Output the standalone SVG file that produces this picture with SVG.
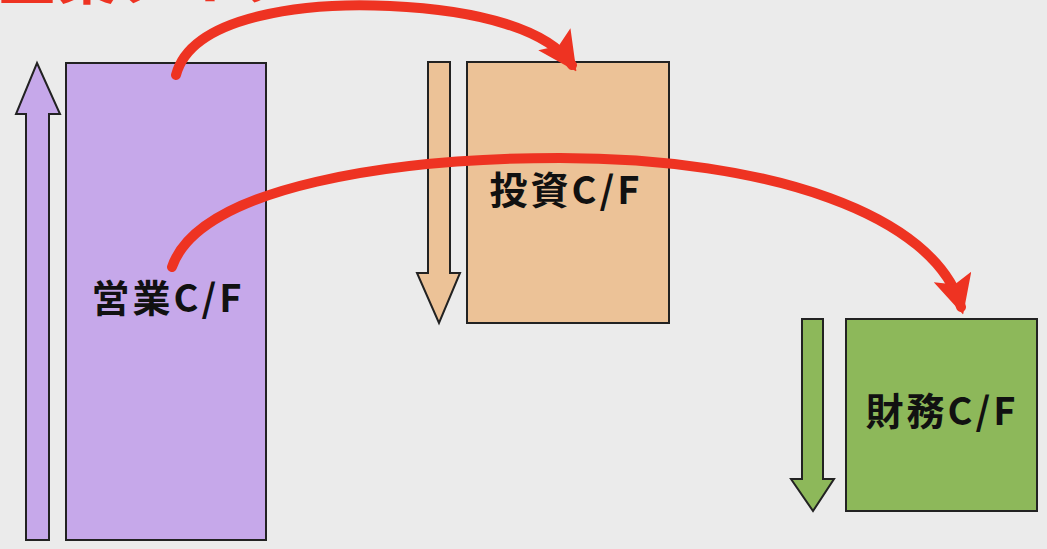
<svg xmlns="http://www.w3.org/2000/svg" width="1047" height="549" viewBox="0 0 1047 549">
<defs>
<style>
.box{stroke:#222;stroke-width:2}
.lbl{font-family:"Noto Sans CJK JP","Noto Sans",sans-serif;font-weight:bold;font-size:38px;letter-spacing:3px;fill:#111;text-anchor:middle}
.flow{fill:none;stroke:#ee3322;stroke-width:10;stroke-linecap:round}
</style>
<marker id="ah" viewBox="0 0 10 10" refX="8" refY="5" markerWidth="3.9" markerHeight="3.9" orient="auto" markerUnits="strokeWidth">
<path d="M0,0 L10,5 L0,10 L2,5 Z" fill="#ee3322"/>
</marker>
</defs>
<rect width="1047" height="549" fill="#ebebeb"/>
<text x="-3" y="-1" font-family="Noto Sans CJK JP,sans-serif" font-weight="bold" font-size="60" fill="#ee3322">企業タイプ</text>
<g id="operating">
<polygon class="box" fill="#c6a8ea" points="37,63 60,114 49,114 49,540 26,540 26,114 16,114"/>
<rect class="box" fill="#c6a8ea" x="66" y="63" width="200" height="477"/>
<text class="lbl" x="168" y="312">営業C/F</text>
</g>
<g id="investing">
<polygon class="box" fill="#ecc297" points="428,62 450,62 450,273 460,273 439,323 417,273 428,273"/>
<rect class="box" fill="#ecc297" x="467" y="62" width="202" height="261"/>
<text class="lbl" x="566" y="204">投資C/F</text>
</g>
<g id="financing">
<polygon class="box" fill="#8db85a" points="802,319 823,319 823,479 834,479 813,511 791,479 802,479"/>
<rect class="box" fill="#8db85a" x="846" y="319" width="191" height="192"/>
<text class="lbl" x="942" y="425">財務C/F</text>
</g>
<g id="connectors">
<path class="flow" d="M176,75 C 192,14 310,2 390,6 C 480,10 548,30 572,65" marker-end="url(#ah)"/>
<path class="flow" d="M172,267 C 200,185 400,158 560,158 C 770,158 935,215 961,307" marker-end="url(#ah)"/>
</g>
</svg>
